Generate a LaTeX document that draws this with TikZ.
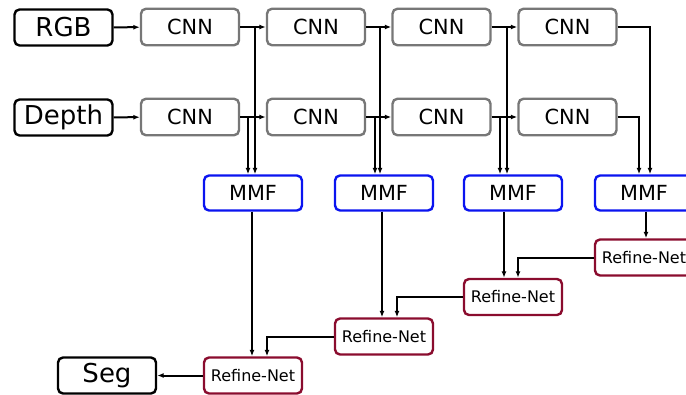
\documentclass[tikz,border=0pt]{standalone}
\usepackage{fontspec}
\setmainfont{DejaVu Sans}
\usetikzlibrary{arrows.meta,calc}

\definecolor{cnngray}{HTML}{777777}
\definecolor{mmfblue}{HTML}{0A14F0}
\definecolor{refred}{HTML}{8A0C2E}

\tikzset{
  blk/.style={draw, rounded corners=5pt, line width=2.4pt, inner sep=0pt,
              minimum width=98pt, align=center},
  iobox/.style={blk, draw=black, minimum height=36pt, font=\fontsize{26}{26}\selectfont},
  cnnbox/.style={blk, draw=cnngray, minimum height=36.5pt, font=\fontsize{20.8}{20.8}\selectfont},
  mmfbox/.style={blk, draw=mmfblue, minimum height=35pt, font=\fontsize{20.8}{20.8}\selectfont},
  refbox/.style={blk, draw=refred, minimum height=36pt, font=\fontsize{16}{16}\selectfont},
  link/.style={draw=black, line width=2pt, -{Latex[length=6.5pt,width=5pt]}},
}

\begin{document}
\begin{tikzpicture}[x=1pt, y=-1pt]
  \useasboundingbox (0,0) rectangle (686,394);

  % inputs and output
  \node[iobox] (rgb)   at (63.5,27.5)  {RGB};
  \node[iobox] (depth) at (63.5,117.5) {Depth};
  \node[iobox] (seg)   at (107,375.5)  {Seg};

  % two CNN streams
  \node[cnnbox] (c11) at (190,27)   {CNN};
  \node[cnnbox] (c12) at (316,27)   {CNN};
  \node[cnnbox] (c13) at (441.5,27) {CNN};
  \node[cnnbox] (c14) at (567.5,27) {CNN};
  \node[cnnbox] (c21) at (190,117)   {CNN};
  \node[cnnbox] (c22) at (316,117)   {CNN};
  \node[cnnbox] (c23) at (441.5,117) {CNN};
  \node[cnnbox] (c24) at (567.5,117) {CNN};

  % fusion blocks
  \node[mmfbox] (m1) at (253,193) {MMF};
  \node[mmfbox] (m2) at (384,193) {MMF};
  \node[mmfbox] (m3) at (513,193) {MMF};
  \node[mmfbox] (m4) at (644,193) {MMF};

  % refinement cascade
  \node[refbox] (r4) at (644,257.5) {Refine-Net};
  \node[refbox] (r3) at (513,297)   {Refine-Net};
  \node[refbox] (r2) at (384,336.5) {Refine-Net};
  \node[refbox] (r1) at (253,375.5) {Refine-Net};

  % stream inputs
  \draw[link] (rgb) -- (c11);
  \draw[link] (depth) -- (c21);

  % stream chains
  \draw[link] (c11.east) -- (c12.west);
  \draw[link] (c12.east) -- (c13.west);
  \draw[link] (c13.east) -- (c14.west);
  \draw[link] (c21.east) -- (c22.west);
  \draw[link] (c22.east) -- (c23.west);
  \draw[link] (c23.east) -- (c24.west);

  % features into fusion (RGB branch)
  \draw[link] (c11.east) -| ([xshift=2pt]m1.north);
  \draw[link] (c12.east) -| ([xshift=-4pt]m2.north);
  \draw[link] (c13.east) -| ([xshift=-6pt]m3.north);
  \draw[link] (c14.east) -| ([xshift=6pt]m4.north);
  % features into fusion (depth branch)
  \draw[link] (c21.east) -| ([xshift=-5pt]m1.north);
  \draw[link] (c22.east) -| ([xshift=-9pt]m2.north);
  \draw[link] (c23.east) -| ([xshift=-13pt]m3.north);
  \draw[link] (c24.east) -| ([xshift=-5pt]m4.north);

  % fusion into refinement
  \draw[link] ([xshift=-1pt]m1.south) -- ([xshift=-1pt]r1.north);
  \draw[link] ([xshift=-2pt]m2.south) -- ([xshift=-2pt]r2.north);
  \draw[link] ([xshift=-9pt]m3.south) -- ([xshift=-9pt]r3.north);
  \draw[link] ([xshift=2pt]m4.south) -- ([xshift=2pt]r4.north);

  % refinement cascade links
  \draw[link] (r4.west) -| ([xshift=5pt]r3.north);
  \draw[link] (r3.west) -| ([xshift=13pt]r2.north);
  \draw[link] (r2.west) -| ([xshift=14pt]r1.north);
  \draw[link] (r1.west) -- (seg.east);
\end{tikzpicture}
\end{document}
